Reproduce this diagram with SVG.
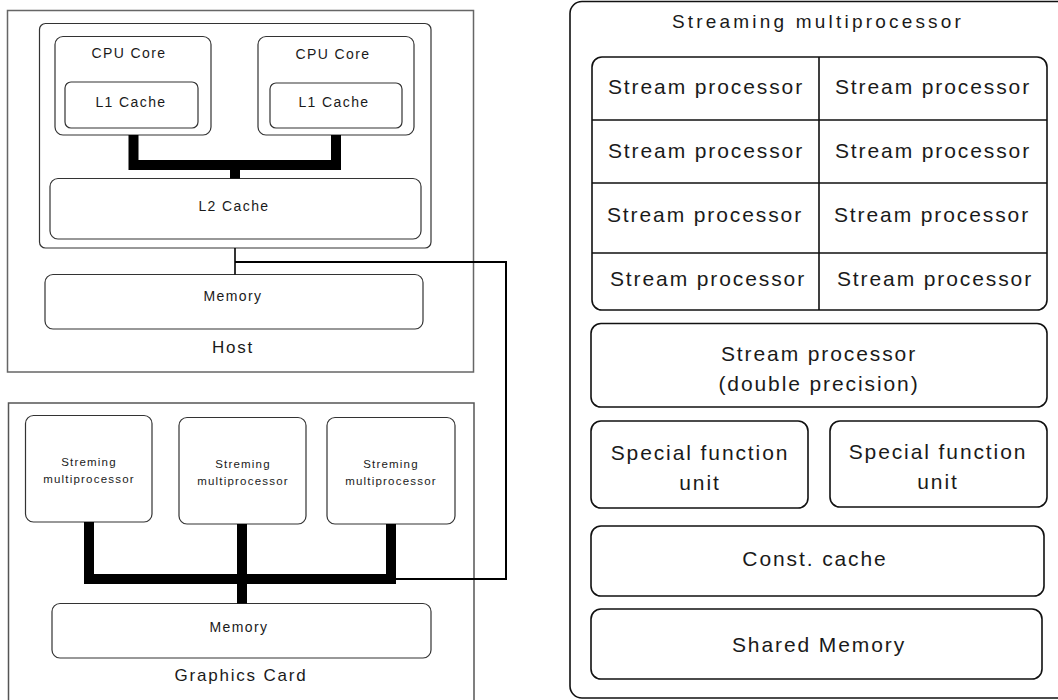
<svg xmlns="http://www.w3.org/2000/svg" width="1058" height="700" viewBox="0 0 1058 700">
<style>
text{font-family:"Liberation Sans",Arial,sans-serif;fill:#1a1a1a;text-anchor:middle}
.outer{fill:#fff;stroke:#666;stroke-width:1.5}
.box{fill:#fff;stroke:#333;stroke-width:1.2}
.rbox{fill:#fff;stroke:#111;stroke-width:1.6}
.s11{font-size:11.5px;letter-spacing:1.2px}
.s13{font-size:14px;letter-spacing:1.4px}
.s16{font-size:17px;letter-spacing:1.8px}
.s18{font-size:19px;letter-spacing:3.2px}
.s20{font-size:21px;letter-spacing:1.9px}
.bus{fill:none;stroke:#000;stroke-width:10;stroke-linejoin:miter}
.wire{fill:none;stroke:#000;stroke-width:2}
</style>
<rect width="1058" height="700" fill="#fff"/>

<g id="host">
<rect class="outer" x="7.5" y="10.5" width="466" height="361.5"/>
<text class="s16" x="233" y="353">Host</text>
</g>
<g id="cpu">
<rect class="box" x="39.5" y="23.5" width="391.5" height="224.5" rx="6"/>
</g>
<g id="cpu-core-1">
<rect class="box" x="55" y="36.5" width="156" height="98.5" rx="8"/>
<text class="s13" x="129" y="58">CPU Core</text>
</g>
<g id="l1-cache-1">
<rect class="box" x="65" y="82" width="133" height="46" rx="6"/>
<text class="s13" x="131" y="106.5">L1 Cache</text>
</g>
<g id="cpu-core-2">
<rect class="box" x="258" y="36.5" width="156" height="98.5" rx="8"/>
<text class="s13" x="333" y="58.5">CPU Core</text>
</g>
<g id="l1-cache-2">
<rect class="box" x="270" y="83" width="132" height="45" rx="6"/>
<text class="s13" x="334" y="106.5">L1 Cache</text>
</g>
<g id="l2-cache">
<rect class="box" x="50" y="178.5" width="371" height="60.5" rx="8"/>
<text class="s13" x="234" y="211">L2 Cache</text>
</g>
<g id="host-memory">
<rect class="box" x="45" y="274.5" width="378" height="54.5" rx="8"/>
<text class="s13" x="233" y="301">Memory</text>
</g>

<g id="graphics-card">
<rect class="outer" x="8.5" y="403" width="465.5" height="310" style="stroke:#555"/>
<text class="s16" x="241" y="681">Graphics Card</text>
</g>
<g id="sm-1">
<rect class="box" x="25.5" y="415.5" width="126.5" height="106.5" rx="8"/>
<text class="s11" x="89" y="466">Streming</text>
<text class="s11" x="89" y="483">multiprocessor</text>
</g>
<g id="sm-2">
<rect class="box" x="179" y="417.5" width="127" height="106.5" rx="8"/>
<text class="s11" x="243" y="468">Streming</text>
<text class="s11" x="243" y="485">multiprocessor</text>
</g>
<g id="sm-3">
<rect class="box" x="327" y="417.5" width="128" height="106.5" rx="8"/>
<text class="s11" x="391" y="468">Streming</text>
<text class="s11" x="391" y="485">multiprocessor</text>
</g>
<g id="gpu-memory">
<rect class="box" x="52" y="603.5" width="379" height="54.5" rx="8"/>
<text class="s13" x="239" y="632">Memory</text>
</g>

<g id="connectors">
<path class="bus" d="M133.5 135 V165 H336 V135 M235 165 V178.5"/>
<path class="bus" d="M89 522 V579 H391 V524 M242 524 V603.5"/>
<path class="wire" d="M235 248 V274.5" style="stroke-width:1.6"/>
<path class="wire" d="M235 262 H506 V579 H396"/>
</g>

<g id="streaming-multiprocessor">
<rect class="rbox" x="570" y="1.5" width="520" height="696.5" rx="12"/>
<text class="s18" x="818" y="28">Streaming multiprocessor</text>
</g>
<g id="stream-processors">
<rect class="rbox" x="592" y="57" width="455" height="253" rx="10"/>
<path d="M819 57 V310 M592 120 H1047 M592 183 H1047 M592 253 H1047" stroke="#111" stroke-width="1.6" fill="none"/>
<text class="s20" x="706" y="93.5">Stream processor</text>
<text class="s20" x="933" y="93.5">Stream processor</text>
<text class="s20" x="706" y="157.5">Stream processor</text>
<text class="s20" x="933" y="157.5">Stream processor</text>
<text class="s20" x="705" y="221.5">Stream processor</text>
<text class="s20" x="932" y="221.5">Stream processor</text>
<text class="s20" x="708" y="285.5">Stream processor</text>
<text class="s20" x="935" y="285.5">Stream processor</text>
</g>
<g id="sp-double">
<rect class="rbox" x="591" y="323.5" width="456" height="83.5" rx="10"/>
<text class="s20" x="819" y="360.5">Stream processor</text>
<text class="s20" x="819" y="390.5">(double precision)</text>
</g>
<g id="sfu-1">
<rect class="rbox" x="591" y="421" width="217" height="87" rx="10"/>
<text class="s20" x="700" y="459.5">Special function</text>
<text class="s20" x="700" y="489.5">unit</text>
</g>
<g id="sfu-2">
<rect class="rbox" x="830" y="421" width="217" height="86" rx="10"/>
<text class="s20" x="938" y="458.5">Special function</text>
<text class="s20" x="938" y="488.5">unit</text>
</g>
<g id="const-cache">
<rect class="rbox" x="591" y="526" width="453" height="70" rx="10"/>
<text class="s20" x="815" y="565.5">Const. cache</text>
</g>
<g id="shared-memory">
<rect class="rbox" x="591" y="609" width="451" height="70" rx="10"/>
<text class="s20" x="819" y="651.5">Shared Memory</text>
</g>
</svg>
